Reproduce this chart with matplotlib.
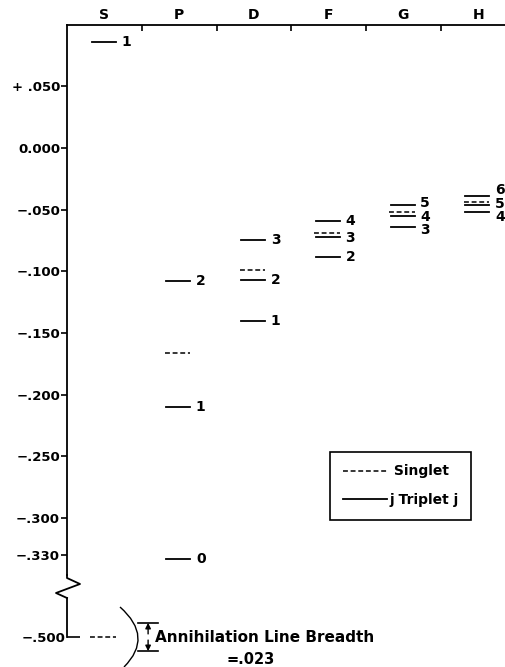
import matplotlib
matplotlib.use('Agg')
import numpy as np
import matplotlib.pyplot as plt
from matplotlib.lines import Line2D
from matplotlib.path import Path
from matplotlib.patches import PathPatch

plt.rcParams['font.family'] = ['DejaVu Sans']
plt.rcParams['font.weight'] = 'bold'

# data
columns = ['S', 'P', 'D', 'F', 'G', 'H']
singlet_e = [-0.500, -0.166, -0.099, -0.069, -0.052, -0.044]
triplet_j = [[1], [2, 1, 0], [3, 2, 1], [4, 3, 2], [5, 4, 3], [6, 5, 4]]
triplet_e = [[0.086],
             [-0.108, -0.210, -0.333],
             [-0.075, -0.107, -0.140],
             [-0.059, -0.072, -0.088],
             [-0.046, -0.055, -0.064],
             [-0.039, -0.046, -0.052]]
yticks_top = [0.05, 0.0, -0.05, -0.10, -0.15, -0.20, -0.25, -0.30, -0.33]
ytick_labels_top = ['+ .050', '0.000', '\u2212.050', '\u2212.100', '\u2212.150',
                    '\u2212.200', '\u2212.250', '\u2212.300', '\u2212.330']
line_breadth = 0.023

W, H = 505, 667
fig = plt.figure(figsize=(W / 100, H / 100), dpi=100)

# pixel layout of the two halves of the broken axis
ax1 = fig.add_axes([67 / W, 1 - 575 / H, (W - 67) / W, 550 / H])
ax2 = fig.add_axes([67 / W, 0, (W - 67) / W, 69 / H])
scale = 1233.0  # pixels per energy unit
xmax = (W - 67) / 74.75

ax1.set_xlim(0, xmax)
ax1.set_ylim(-(575 - 148) / scale, (148 - 25) / scale)
ax2.set_xlim(0, xmax)
ax2.set_ylim(-0.5 - 30 / scale, -0.5 + 39 / scale)

for ax in (ax1, ax2):
    ax.patch.set_alpha(0)
    ax.spines['right'].set_visible(False)
    ax.spines['bottom'].set_visible(False)
    ax.spines['left'].set_linewidth(1.3)
ax1.spines['top'].set_linewidth(1.3)
ax2.spines['top'].set_visible(False)
ax2.spines['left'].set_bounds(-0.5, ax2.get_ylim()[1])

# top axis with column letters
ax1.xaxis.tick_top()
ax1.set_xticks(range(1, 6))
ax1.set_xticklabels([])
ax1.tick_params(axis='x', direction='in', length=4, width=1.2)
ax1.set_xticks(np.arange(len(columns)) + 0.5, minor=True)
ax1.set_xticklabels(columns, minor=True, fontsize=10, fontweight='bold')
ax1.tick_params(axis='x', which='minor', length=0, pad=2)

ax1.set_yticks(yticks_top)
ax1.set_yticklabels(ytick_labels_top, fontsize=9.5, fontweight='bold')
ax1.tick_params(axis='y', direction='out', length=4, width=1.2, pad=1)

ax2.set_xticks([])
ax2.set_yticks([-0.5])
ax2.set_yticklabels(['\u2212.500'], fontsize=9.5, fontweight='bold')
ax2.tick_params(axis='y', direction='in', length=9, width=1.2, pad=1)

dash = (0, (3.2, 1.8))
x_lo, x_hi = -0.17, 0.15

# label nudges (points) where labels crowd
nudge = {(5, 6): 4.5, (5, 5): 0.5, (5, 4): -3.5,
         (4, 5): 1.5, (4, 4): -1.0, (4, 3): -2.0, (3, 3): -1.0}

for i, col in enumerate(columns):
    c = i + 0.5
    s = singlet_e[i]
    target = ax2 if s < -0.4 else ax1
    target.plot([c + x_lo - 0.02, c + x_hi], [s, s], color='black', lw=1.1,
                linestyle=dash, solid_capstyle='butt')
    for j, e in zip(triplet_j[i], triplet_e[i]):
        ax1.plot([c + x_lo, c + x_hi], [e, e], color='black', lw=1.3)
        ax1.annotate(str(j), (c + x_hi, e), xytext=(4, nudge.get((i, j), 0)),
                     textcoords='offset points', ha='left', va='center',
                     fontsize=10, fontweight='bold')

# axis break zigzag
zz_x = [67, 67, 80, 56, 67]
zz_y = [575, 578, 584, 593, 598]
fig.add_artist(Line2D([x / W for x in zz_x], [1 - y / H for y in zz_y],
                      transform=fig.transFigure, color='black', lw=1.3))

# annihilation line profile and breadth marker
verts = [(120 / W, 1 - 607 / H), (154 / W, 1 - 637 / H), (124 / W, 1 - 667 / H)]
prof = PathPatch(Path(verts, [Path.MOVETO, Path.CURVE3, Path.CURVE3]),
                 transform=fig.transFigure, fill=False, lw=1.0, color='black')
fig.add_artist(prof)

y_top = -0.5 + line_breadth / 2
y_bot = -0.5 - line_breadth / 2
bx0, bx1 = 0.95, 1.22
bxc = (bx0 + bx1) / 2
ax2.plot([bx0, bx1], [y_top, y_top], color='black', lw=1.2, clip_on=False)
ax2.plot([bx0, bx1], [y_bot, y_bot], color='black', lw=1.2, clip_on=False)
ax2.annotate('', xy=(bxc, y_top), xytext=(bxc, y_top - 0.009),
             arrowprops=dict(arrowstyle='-|>', color='black', lw=1.0,
                             mutation_scale=8, shrinkA=0, shrinkB=0),
             annotation_clip=False)
ax2.annotate('', xy=(bxc, y_bot), xytext=(bxc, y_bot + 0.009),
             arrowprops=dict(arrowstyle='-|>', color='black', lw=1.0,
                             mutation_scale=8, shrinkA=0, shrinkB=0),
             annotation_clip=False)
ax2.text(1.18, -0.5, 'Annihilation Line Breadth', ha='left', va='center',
         fontsize=11, fontweight='bold', clip_on=False)
ax2.text(2.45, -0.5 - 22 / scale, '=.023', ha='center', va='center',
         fontsize=10.5, fontweight='bold', clip_on=False)

# legend
handles = [Line2D([], [], color='black', lw=1.1, linestyle=dash),
           Line2D([], [], color='black', lw=1.3)]
leg = ax1.legend(handles, [' Singlet', 'j Triplet j'], loc='upper left',
                 bbox_to_anchor=(330 / W, 1 - 452 / H),
                 bbox_transform=fig.transFigure, borderaxespad=0,
                 fancybox=False, edgecolor='black', framealpha=1,
                 handlelength=3.2, handletextpad=0.15, labelspacing=1.05,
                 borderpad=0.9, prop={'size': 10, 'weight': 'bold'})
leg.get_frame().set_linewidth(1.2)

fig.savefig('out.png', dpi=100)
